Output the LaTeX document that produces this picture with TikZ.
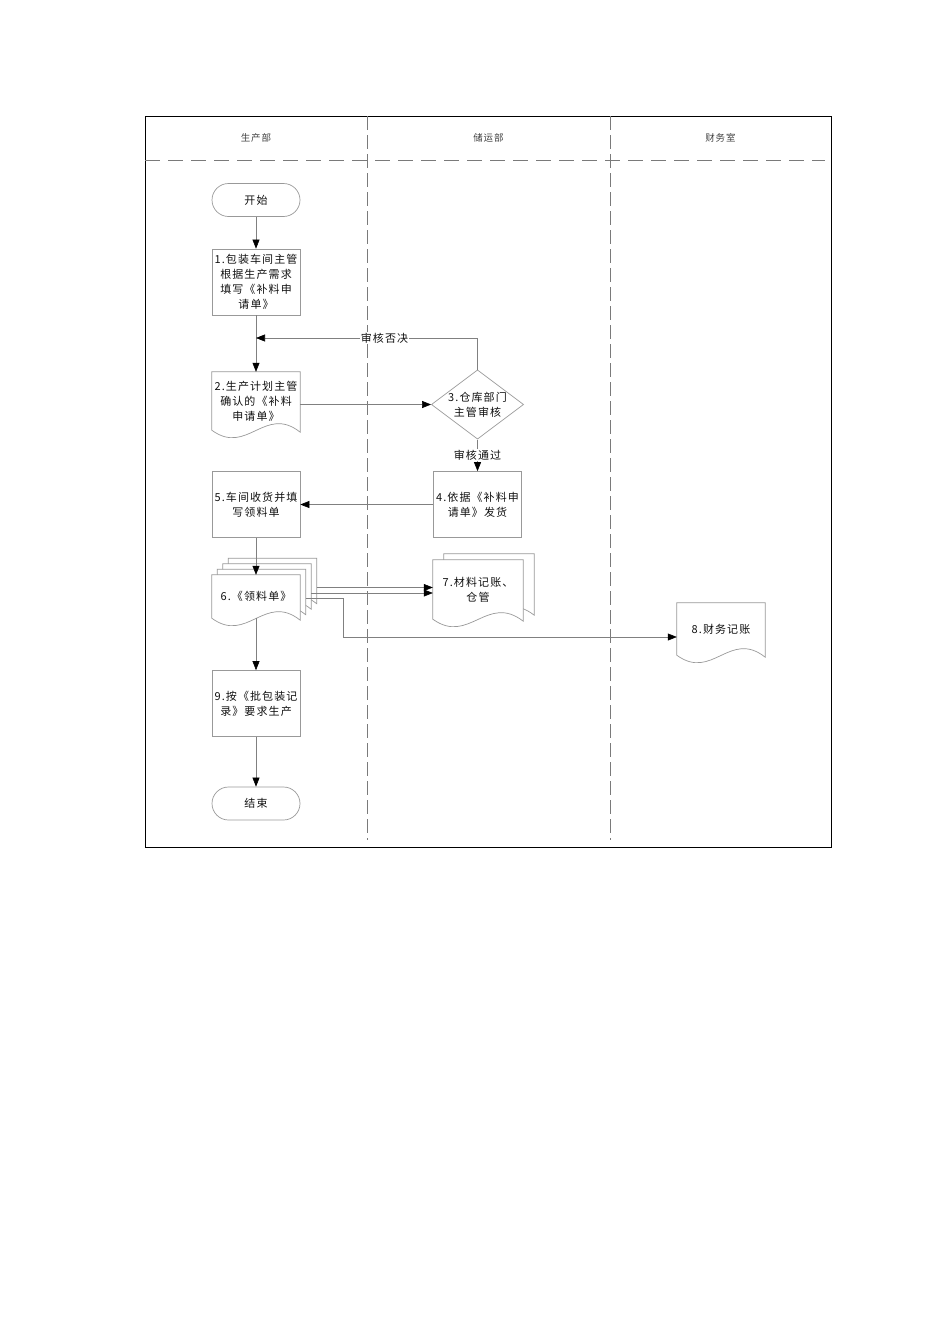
\documentclass[tikz,border=0pt]{standalone}
\usepackage{fontspec}
\newfontfamily\cjkfont{Noto Sans CJK SC}[LetterSpace=10]
\usetikzlibrary{arrows.meta,shapes.geometric,calc,backgrounds}
\definecolor{edge}{HTML}{999999}
\definecolor{wire}{HTML}{808080}
\definecolor{lane}{HTML}{7A7A7A}
\definecolor{ink}{HTML}{111111}

\newcommand{\wavydoc}[1]{%
    \draw[docline] (#1.south west) -- (#1.north west) -- (#1.north east) -- ([yshift=-2pt]#1.south east)
        .. controls ($(#1.south west)!0.6!(#1.south east)+(0,-26)$) and ($(#1.south west)!0.4!(#1.south east)+(0,26)$) .. (#1.south west) -- cycle;}

\begin{document}
\begin{tikzpicture}[x=1pt,y=-1pt,
        every node/.style={font=\cjkfont\fontsize{11}{15}\selectfont,text=ink},
        box/.style={draw=edge,line width=0.7pt,minimum width=88pt,minimum height=66pt,inner sep=0pt,align=center},
        term/.style={box,rounded corners=16.5pt,minimum height=33pt},
        doc/.style={minimum width=88pt,inner sep=0pt,align=center},
        docline/.style={draw=edge,line width=0.7pt,fill=white},
        check/.style={draw=edge,line width=0.7pt,shape=diamond,aspect=1.33,minimum width=88pt,minimum height=66pt,inner sep=0pt,align=center},
        arr/.style={draw=wire,line width=0.6pt,-{Triangle[length=9pt,width=7pt,color=black]}},
        lab/.style={fill=white,inner sep=1pt},
        head/.style={font=\cjkfont\fontsize{9.5}{12}\selectfont,text=black!75},
        lanedash/.style={draw=lane,line width=0.9pt,dash pattern=on 14pt off 5pt}]
        \useasboundingbox (0,0) rectangle (950,1344);

        \draw[black,line width=0.9pt] (145,116) rectangle (831.5,847.5);
        \draw[lane,line width=0.9pt,dash pattern=on 15pt off 8pt] (145,160.5) -- (825,160.5);
        \draw[lanedash] (367,116) -- (367,840);
        \draw[lanedash] (610,116) -- (610,840);

        \node[head] (h1) at (256  ,138) {生产部};
        \node[head] (h2) at (488.5,138) {储运部};
        \node[head] (h3) at (720.5,138) {财务室};

        \node[term]  (start) at (256  ,200  ) {开始};
        \node[box]   (s1)    at (256  ,282  ) {1.包装车间主管\\根据生产需求\\填写《补料申\\请单》};
        \node[doc,minimum height=58pt] (s2) at (256,401) {2.生产计划主管\\确认的《补料\\申请单》};
        \node[check] (s3)    at (477.5,404.5) {3.仓库部门\\主管审核};
        \coordinate  (back)  at (256  ,338  );
        \node[box]   (s4)    at (477.5,504.5) {4.依据《补料申\\请单》发货};
        \node[box]   (s5)    at (256  ,504.5) {5.车间收货并填\\写领料单};

        \node[doc,minimum height=43pt] (s6c) at (272.5,580  ) {};
        \node[doc,minimum height=43pt] (s6b) at (267  ,585.5) {};
        \node[doc,minimum height=43pt] (s6a) at (261.5,591  ) {};
        \node[doc,minimum height=43pt] (s6)  at (256  ,596.5) {6.《领料单》};

        \node[doc,minimum width=90pt,minimum height=59pt] (s7a) at (489,583.5) {};
        \node[doc,minimum width=90pt,minimum height=59pt] (s7)  at (478,589.5) {7.材料记账、\\仓管};
        \node[doc,minimum height=52pt] (s8) at (721,629) {8.财务记账};

        \node[box]   (s9)    at (256  ,703.5) {9.按《批包装记\\录》要求生产};
        \node[term]  (stop)  at (256  ,803.5) {结束};

        \begin{scope}[on background layer]
            \wavydoc{s2}
            \wavydoc{s6c}
            \wavydoc{s6b}
            \wavydoc{s6a}
            \wavydoc{s6}
            \wavydoc{s7a}
            \wavydoc{s7}
            \wavydoc{s8}
        \end{scope}

        \draw[arr] (start) -- (s1);
        \draw[arr] (s1) -- (s2);
        \draw[arr] (s2.east |- s3) -- (s3);
        \draw[arr] (s3.north) |- node[lab,pos=0.71] {审核否决} (back);
        \draw[arr] (s3) -- node[lab] {审核通过} (s4);
        \draw[arr] (s4) -- (s5);
        \draw[arr] (s5) -- (s6);
        \draw[arr] ([yshift=-7.5pt]s6c.east) -- ([yshift=-7.5pt]s6c.east -| s7.west);
        \draw[arr] ([yshift=-7.5pt]s6b.east) -- ([yshift=-7.5pt]s6b.east -| s7.west);
        \draw[arr] ([yshift=-7.5pt]s6a.east) -- ++(38,0) |- ([yshift=-8pt]s8.west);
        \draw[arr] (s6) -- (s9);
        \draw[arr] (s9) -- (stop);
    \end{tikzpicture}
\end{document}
